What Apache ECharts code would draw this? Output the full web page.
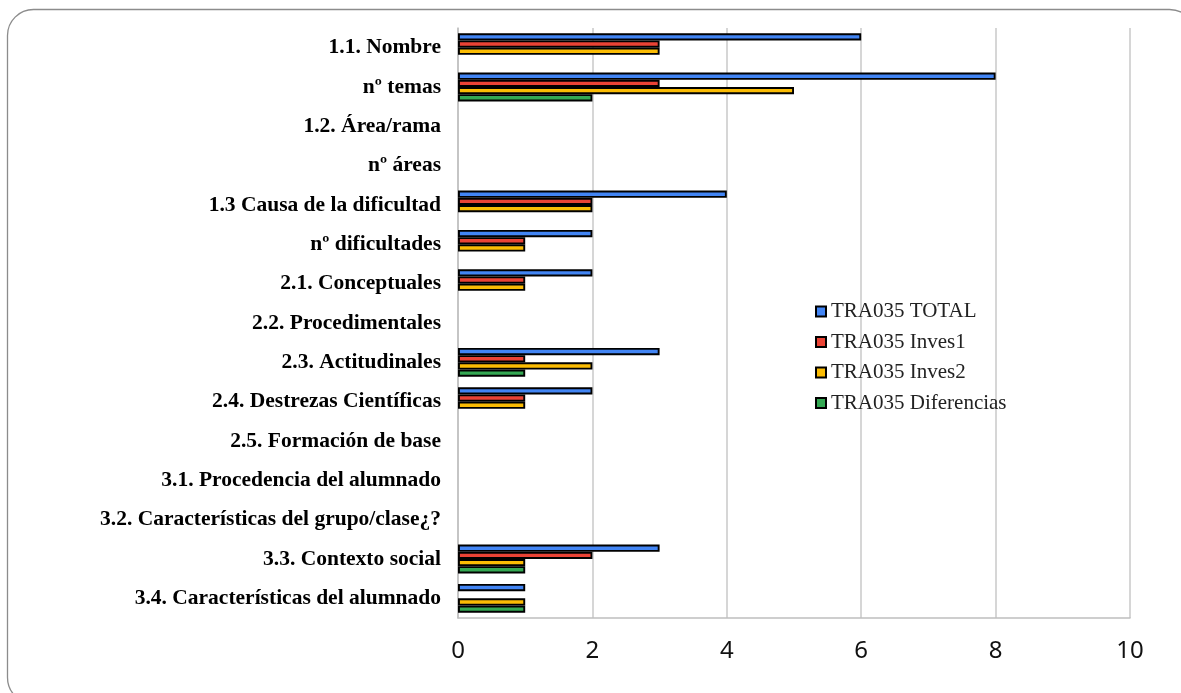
<!DOCTYPE html>
<html>
<head>
<meta charset="utf-8">
<script src="https://cdn.jsdelivr.net/npm/echarts@6/dist/echarts.min.js"></script>
<style>html,body{margin:0;padding:0;background:#fff;}#c{width:1181px;height:693px;}</style>
</head>
<body>
<div id="c"></div>
<script>
const categories = [
  "1.1. Nombre", "nº temas", "1.2. Área/rama", "nº áreas",
  "1.3 Causa de la dificultad", "nº dificultades", "2.1. Conceptuales",
  "2.2. Procedimentales", "2.3. Actitudinales", "2.4. Destrezas Científicas",
  "2.5. Formación de base", "3.1. Procedencia del alumnado",
  "3.2. Características del grupo/clase¿?", "3.3. Contexto social",
  "3.4. Características del alumnado"
];
const totalValues      = [6, 8, 0, 0, 4, 2, 2, 0, 3, 2, 0, 0, 0, 3, 1];
const inves1Values     = [3, 3, 0, 0, 2, 1, 1, 0, 1, 1, 0, 0, 0, 2, 0];
const inves2Values     = [3, 5, 0, 0, 2, 1, 1, 0, 2, 1, 0, 0, 0, 1, 1];
const diferenciasValues= [0, 2, 0, 0, 0, 0, 0, 0, 1, 0, 0, 0, 0, 1, 1];
const seriesNames = ["TRA035 TOTAL", "TRA035 Inves1", "TRA035 Inves2", "TRA035 Diferencias"];
const seriesColors = ["#4285F4", "#EA4335", "#FBBC04", "#34A853"];
const xTicks = [0, 2, 4, 6, 8, 10];

const allValues = [totalValues, inves1Values, inves2Values, diferenciasValues];
const chart = echarts.init(document.getElementById('c'), null, {renderer: 'canvas'});
chart.setOption({
  animation: false,
  backgroundColor: '#fff',
  graphic: [{
    type: 'rect', silent: true, z: -10,
    shape: {x: 7.5, y: 9.5, width: 1188, height: 694, r: 26},
    style: {fill: 'none', stroke: '#8c8c8c', lineWidth: 1.3}
  }],
  grid: {left: 458, right: 51, top: 28, bottom: 75, containLabel: false},
  legend: {
    orient: 'vertical', left: 810, top: 296,
    itemWidth: 10, itemHeight: 10, itemGap: 9.5,
    icon: 'rect',
    textStyle: {fontFamily: 'Liberation Serif', fontSize: 21, color: '#222'},
    data: seriesNames
  },
  xAxis: {
    type: 'value', min: xTicks[0], max: xTicks[xTicks.length - 1], interval: 2,
    axisLine: {show: true, lineStyle: {color: '#bfbfbf', width: 1.5}},
    axisTick: {show: false},
    splitLine: {show: true, lineStyle: {color: '#c8c8c8', width: 1.5}},
    axisLabel: {margin: 21, fontFamily: 'Noto Sans', fontSize: 24, color: '#111'}
  },
  yAxis: {
    type: 'category', inverse: true, data: categories,
    axisLine: {show: true, lineStyle: {color: '#bfbfbf', width: 1.5}},
    axisTick: {show: false},
    axisLabel: {margin: 17, fontFamily: 'Liberation Serif', fontWeight: 'bold', fontSize: 21.5, color: '#000'}
  },
  series: seriesNames.map((name, i) => ({
    name: name, type: 'bar',
    barWidth: 7.2, barGap: '0%',
    data: allValues[i].map(v => v === 0 ? '-' : v),
    itemStyle: {color: seriesColors[i], borderColor: '#000', borderWidth: 1.9}
  }))
});
</script>
</body>
</html>
